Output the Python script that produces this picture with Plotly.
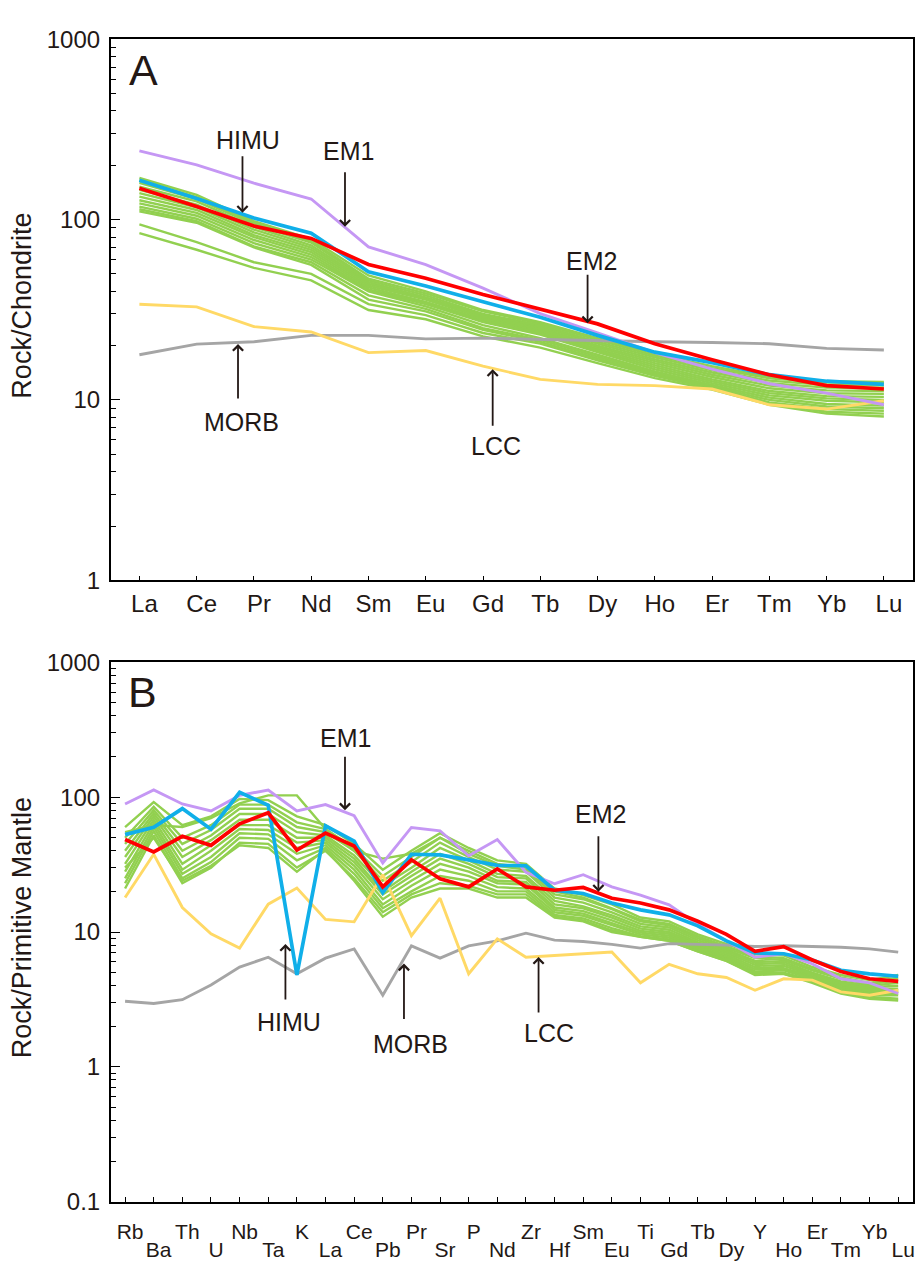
import math
import plotly.graph_objects as go

# ---------------- Panel A: chondrite-normalised REE ----------------
ree = ["La", "Ce", "Pr", "Nd", "Sm", "Eu", "Gd", "Tb", "Dy", "Ho", "Er", "Tm", "Yb", "Lu"]

ree_em1 = [240, 201, 159, 130, 70.5, 56.3, 41.7, 30.1, 23.5, 18.3, 14.8, 12.3, 10.9, 9.4]
ree_himu = [165, 131, 102, 84, 51.4, 42.8, 35.0, 28.7, 22.8, 18.4, 16.1, 13.8, 12.7, 12.2]
ree_em2 = [149, 118, 92, 78.6, 56.3, 47.3, 38.4, 31.8, 26.4, 20.5, 16.7, 13.8, 12.0, 11.5]
ree_morb = [17.8, 20.4, 21.0, 22.8, 22.8, 21.8, 22.0, 21.6, 21.4, 21.0, 20.8, 20.5, 19.3, 18.9]
ree_lcc = [33.9, 32.8, 25.5, 23.8, 18.3, 18.8, 15.4, 13.0, 12.2, 12.0, 11.5, 9.4, 8.9, 9.9]

ree_samples = [
    [170, 137, 98, 78, 49, 40, 31.5, 27, 22, 18, 15.4, 13.4, 12.7, 12.6],
    [165, 133, 96, 76, 47, 39, 31, 26.5, 21.5, 17.6, 15.0, 13.2, 12.5, 12.4],
    [160, 130, 94, 74.5, 46, 38, 30, 26, 21, 17.2, 14.6, 12.8, 12.1, 12.0],
    [152, 126, 91, 72, 45, 37, 29.5, 25.5, 20.5, 16.8, 14.2, 12.4, 11.7, 11.6],
    [146, 121, 88, 70, 44, 36.5, 29, 25, 20, 16.4, 13.8, 12.0, 11.3, 11.2],
    [140, 117, 85, 68, 43, 36, 28.5, 24.5, 19.6, 16.0, 13.4, 11.6, 10.9, 10.8],
    [134, 113, 82, 66, 42, 35, 28, 24, 19.2, 15.6, 13.0, 11.2, 10.5, 10.4],
    [128, 109, 80, 64, 41, 34.5, 27.5, 23.5, 18.8, 15.2, 12.7, 10.9, 10.2, 10.0],
    [123, 105, 77, 62, 40.5, 34, 27, 23, 18.4, 14.8, 12.4, 10.6, 9.9, 9.7],
    [118, 101, 74, 60, 40, 33, 26, 22, 17.8, 14.4, 12.1, 10.3, 9.5, 9.3],
    [114, 98, 71, 58, 38, 32, 25, 21.5, 17.4, 14.1, 11.9, 10.0, 9.2, 9.0],
    [111, 96, 70, 56, 36, 31, 24.5, 21, 17.0, 13.8, 11.7, 9.7, 8.9, 8.7],
    [94, 75, 58, 50, 34, 29.5, 23.5, 20.5, 16.6, 13.6, 11.6, 9.6, 8.6, 8.4],
    [84, 68, 54, 46, 31.5, 28, 22.5, 19.5, 16, 13.2, 11.4, 9.4, 8.4, 8.1],
]

# ---------------- Panel B: primitive-mantle-normalised spider ----------------
spider = ["Rb", "Ba", "Th", "U", "Nb", "Ta", "K", "La", "Ce", "Pb", "Pr", "Sr", "P", "Nd",
          "Zr", "Hf", "Sm", "Eu", "Ti", "Gd", "Tb", "Dy", "Y", "Ho", "Er", "Tm", "Yb", "Lu"]

sp_em1 = [89, 113, 89, 79, 103, 113, 79, 88, 72.8, 32.5, 59.6, 56.3, 36.7, 48.5,
          27.7, 22.8, 26.6, 21.6, 18.8, 15.9, 11.4, 8.6, 6.5, 6.9, 5.8, 4.5, 4.2, 3.5]
sp_himu = [52.7, 59.8, 82.2, 57.9, 108.7, 87, 4.8, 61.3, 47.1, 19.6, 37.7, 37.3, 34.3, 31.2,
           31.0, 20.4, 19.3, 16.4, 14.6, 13.4, 11.1, 8.6, 7.0, 6.9, 6.2, 5.2, 4.9, 4.7]
sp_em2 = [48.5, 39.2, 51.2, 43.9, 63.4, 76.5, 40.5, 54.1, 43.4, 21.6, 34.3, 24.8, 21.6, 29.4,
          21.6, 20.4, 21.4, 17.8, 16.4, 14.6, 12.0, 9.6, 7.2, 7.8, 6.2, 5.1, 4.5, 4.3]
sp_morb = [3.07, 2.95, 3.15, 4.05, 5.5, 6.5, 4.9, 6.4, 7.5, 3.4, 7.9, 6.4, 7.9, 8.6,
           9.8, 8.7, 8.5, 8.1, 7.6, 8.2, 8.1, 8.0, 7.8, 7.9, 7.8, 7.7, 7.5, 7.1]
sp_lcc = [18, 37.7, 15.2, 9.7, 7.6, 16.1, 21.2, 12.4, 11.9, 26.6, 9.4, 17.8, 4.9, 8.9,
          6.5, 6.7, 6.9, 7.1, 4.2, 5.76, 4.9, 4.6, 3.7, 4.5, 4.4, 3.6, 3.4, 3.7]

sp_samples = [
    [60, 92, 62, 72, 97, 95, 72, 62, 45, 29, 40, 54, 42, 34, 32, 21, 18.8, 16, 12.8, 12, 9.6, 8.1, 6.9, 6.7, 5.5, 4.8, 4.4, 4.8],
    [55, 62, 60, 70, 90, 103, 103, 58, 40, 35, 38, 50, 40, 32, 30, 20, 18, 15, 12.3, 11.5, 9.3, 7.8, 6.6, 6.4, 5.3, 4.6, 4.2, 4.6],
    [50, 85, 50, 62, 88, 88, 65, 58, 42, 26, 36, 50, 38, 31, 29, 19, 17.5, 14.8, 12, 11.2, 9.0, 7.6, 6.4, 6.2, 5.2, 4.5, 4.1, 4.4],
    [45, 80, 45, 57, 82, 82, 60, 55, 40, 24, 33, 46, 36, 29, 28, 18, 16.5, 14, 11.5, 10.8, 8.7, 7.4, 6.1, 6.0, 5.0, 4.3, 4.0, 4.2],
    [40, 76, 40, 52, 75, 75, 55, 52, 37, 22, 30, 42, 34, 27, 26, 17, 15.5, 13.3, 11, 10.4, 8.4, 7.2, 5.9, 5.8, 4.9, 4.2, 3.9, 4.0],
    [36, 72, 36, 48, 68, 68, 50, 50, 35, 20, 28, 38, 32, 25.5, 25, 16, 15, 12.8, 10.6, 10, 8.2, 7.0, 5.7, 5.6, 4.8, 4.1, 3.8, 3.8],
    [32, 68, 32, 44, 62, 62, 46, 48, 33, 19, 26, 35, 30, 24, 23.5, 15.2, 14.3, 12.2, 10.2, 9.7, 8.0, 6.8, 5.5, 5.4, 4.7, 4.0, 3.7, 3.7],
    [28, 64, 29, 40, 58, 57, 42, 46, 31, 17.5, 24, 32, 28, 23, 22.5, 14.6, 13.7, 11.7, 9.9, 9.4, 7.8, 6.6, 5.3, 5.3, 4.6, 3.9, 3.6, 3.6],
    [25, 60, 27, 36, 54, 53, 38, 44, 29, 16, 22, 29, 26, 21.5, 21, 14, 13.2, 11.2, 9.6, 9.1, 7.6, 6.4, 5.1, 5.2, 4.5, 3.8, 3.5, 3.5],
    [23, 56, 25, 33, 50, 49, 34, 42, 27, 15, 20, 26, 24, 20, 20, 13.4, 12.6, 10.7, 9.3, 8.8, 7.4, 6.3, 5.0, 5.0, 4.4, 3.7, 3.4, 3.4],
    [21, 52, 23, 30, 46, 45, 30, 40, 25, 14, 19, 23, 22, 19, 19, 13, 12.2, 10.3, 9.2, 8.6, 7.2, 6.1, 4.9, 4.9, 4.3, 3.6, 3.3, 3.2],
    [30, 50, 24, 31, 44, 42, 28, 41, 24, 13, 18, 21, 21, 18, 18, 12.8, 12, 10, 9.2, 8.6, 7.2, 6.1, 4.8, 4.9, 4.2, 3.5, 3.2, 3.1],
]

# ---------------- styles ----------------
W, H = 923, 1273
FONT = "Liberation Sans, Arial, sans-serif"
C_GREEN = "#92d050"
C_GRAY = "#a5a5a5"
C_YELLOW = "#ffd966"
C_PURPLE = "#c597f4"
C_BLUE = "#10afe9"
C_RED = "#ff0000"
C_TEXT = "#231815"

fig = go.Figure()


def add_panel(cats, samples, morb, lcc, em1, himu, em2, xa, ya):
    xs = list(range(len(cats)))
    for s in samples:
        fig.add_trace(go.Scatter(x=xs, y=s, mode="lines", xaxis=xa, yaxis=ya,
                                 line=dict(color=C_GREEN, width=2.4), showlegend=False,
                                 hoverinfo="skip"))
    for vals, col, w in [(morb, C_GRAY, 2.9), (lcc, C_YELLOW, 2.9), (em1, C_PURPLE, 2.9),
                         (himu, C_BLUE, 3.7), (em2, C_RED, 3.7)]:
        fig.add_trace(go.Scatter(x=xs, y=vals, mode="lines", xaxis=xa, yaxis=ya,
                                 line=dict(color=col, width=w), showlegend=False))


add_panel(ree, ree_samples, ree_morb, ree_lcc, ree_em1, ree_himu, ree_em2, "x", "y")
add_panel(spider, sp_samples, sp_morb, sp_lcc, sp_em1, sp_himu, sp_em2, "x2", "y2")
# empty trace so the overlay axis carrying the second label row is drawn
fig.add_trace(go.Scatter(x=[], y=[], xaxis="x3", yaxis="y2", showlegend=False))

xdom = [111 / W, 914.5 / W]
ydomA = [1 - 578.6 / H, 1 - 25.7 / H]
ydomB = [1 - 1213.5 / H, 1 - 662.3 / H]

axis_common = dict(showline=True, linecolor="black", linewidth=1.6, mirror=True,
                   showgrid=False, zeroline=False)

fig.update_layout(
    width=W, height=H, margin=dict(l=0, r=0, t=0, b=0, pad=0),
    paper_bgcolor="white", plot_bgcolor="white",
    font=dict(family=FONT, color=C_TEXT),
    xaxis=dict(domain=xdom, range=[-0.5, 13.5], anchor="y",
               tickmode="array", tickvals=list(range(len(ree))), ticktext=ree,
               ticks="inside", ticklen=5, tickwidth=1.2, tickcolor="black",
               tickfont=dict(size=24, family=FONT, color=C_TEXT),
               ticklabelshift=5, ticklabelstandoff=1, **axis_common),
    yaxis=dict(domain=ydomA, type="log", range=[0, 3], anchor="x",
               tickmode="array", tickvals=[1, 10, 100, 1000], ticktext=["1", "10", "100", "1000"],
               ticks="inside", ticklen=9, tickwidth=1.2, tickcolor="black",
               minor=dict(ticks="inside", ticklen=5, tickwidth=1, tickcolor="black", dtick="D1"),
               tickfont=dict(size=24, family=FONT, color=C_TEXT),
               ticklabelstandoff=4, **axis_common),
    xaxis2=dict(domain=xdom, range=[-0.5, 27.5], anchor="y2",
                tickmode="array", tickvals=list(range(len(spider))),
                ticktext=[c if i % 2 == 0 else "" for i, c in enumerate(spider)],
                ticks="inside", ticklen=5, tickwidth=1.2, tickcolor="black",
                tickfont=dict(size=21, family=FONT, color=C_TEXT),
                ticklabelshift=5, ticklabelstandoff=10, **axis_common),
    xaxis3=dict(domain=xdom, range=[-0.5, 27.5], anchor="y2", overlaying="x2",
                tickmode="array", tickvals=list(range(1, len(spider), 2)),
                ticktext=[c for i, c in enumerate(spider) if i % 2 == 1],
                ticks="", showline=False, showgrid=False, zeroline=False,
                tickfont=dict(size=21, family=FONT, color=C_TEXT),
                ticklabelshift=5, ticklabelstandoff=33),
    yaxis2=dict(domain=ydomB, type="log", range=[-1, 3], anchor="x2",
                tickmode="array", tickvals=[0.1, 1, 10, 100, 1000],
                ticktext=["0.1", "1", "10", "100", "1000"],
                ticks="inside", ticklen=9, tickwidth=1.2, tickcolor="black",
                minor=dict(ticks="inside", ticklen=5, tickwidth=1, tickcolor="black", dtick="D1"),
                tickfont=dict(size=24, family=FONT, color=C_TEXT),
                ticklabelstandoff=4, **axis_common),
)

annotations = []


def paper_text(text, px, py, size, angle=0):
    annotations.append(dict(text=text, xref="paper", yref="paper", x=px / W, y=1 - py / H,
                            xanchor="center", yanchor="middle", showarrow=False,
                            textangle=angle, font=dict(size=size, family=FONT, color=C_TEXT)))


# axis titles and panel letters
paper_text("Rock/Chondrite", 22, 298, 27, -90)
paper_text("Rock/Primitive Mantle", 22, 933, 27, -90)
paper_text("A", 144, 57, 43)
paper_text("B", 143, 693, 43)

# labelled arrows: (label, xref, yref, tip x (category index), tip value, arrow dy px, text dx, text dy)
arrow_specs = [
    ("HIMU", "x", "y", 1.80, 109, -58, 6, -73),
    ("EM1", "x", "y", 3.59, 91.3, -56, 4, -76),
    ("EM2", "x", "y", 7.826, 26.6, -50, 4, -62),
    ("MORB", "x", "y", 1.722, 20.4, 56, 3, 78),
    ("LCC", "x", "y", 6.169, 14.8, 58, 3, 77),
    ("EM1", "x2", "y2", 7.68, 80.1, -55, 1, -72),
    ("EM2", "x2", "y2", 16.53, 19.9, -57, 2, -78),
    ("HIMU", "x2", "y2", 5.60, 8.14, 57, 4, 78),
    ("MORB", "x2", "y2", 9.74, 5.83, 57, 7, 80),
    ("LCC", "x2", "y2", 14.44, 6.52, 57, 10, 76),
]
for label, xr, yr, tx, tv, ady, tdx, tdy in arrow_specs:
    ty = math.log10(tv)  # annotation y on a log axis is given in log10 units
    annotations.append(dict(text="", x=tx, y=ty, xref=xr, yref=yr, showarrow=True,
                            ax=0, ay=ady, axref="pixel", ayref="pixel",
                            arrowhead=4, arrowsize=1.1, arrowwidth=1.8, arrowcolor=C_TEXT,
                            standoff=0, startstandoff=0))
    annotations.append(dict(text=label, x=tx, y=ty, xref=xr, yref=yr, showarrow=False,
                            xanchor="center", yanchor="middle",
                            xshift=tdx, yshift=-tdy,
                            font=dict(size=25, family=FONT, color=C_TEXT)))

fig.update_layout(annotations=annotations)

fig.write_html("out.html")
